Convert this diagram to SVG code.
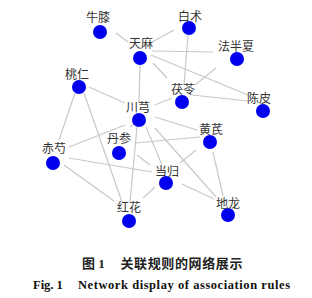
<svg xmlns="http://www.w3.org/2000/svg" width="312" height="298" viewBox="0 0 312 298">
<style>
.e{stroke:#c8c8c8;stroke-width:1.2;fill:none}
.n{fill:#0000ee}
.l{font-family:"Noto Sans CJK SC","Noto Sans",sans-serif;font-size:12px;fill:#333;text-anchor:middle}
.cz{font-family:"Liberation Serif","Noto Sans CJK SC",serif;font-size:13px;font-weight:bold;fill:#222}
.ce{font-family:"Liberation Serif",serif;font-size:12.5px;font-weight:bold;fill:#111}
</style>
<rect width="312" height="298" fill="#fff"/>
<g id="edges">
<line class="e" x1="116" y1="33" x2="128" y2="42"/>
<line class="e" x1="152" y1="42" x2="174" y2="30"/>
<line class="e" x1="152" y1="51" x2="213" y2="52"/>
<line class="e" x1="151" y1="55" x2="248" y2="95"/>
<line class="e" x1="153" y1="63" x2="167" y2="78"/>
<line class="e" x1="140" y1="65" x2="139" y2="103"/>
<line class="e" x1="188" y1="35" x2="184" y2="85"/>
<line class="e" x1="216" y1="68" x2="195" y2="85"/>
<line class="e" x1="192" y1="95" x2="248" y2="101"/>
<line class="e" x1="89" y1="87" x2="125" y2="103"/>
<line class="e" x1="155" y1="105" x2="172" y2="98"/>
<line class="e" x1="75" y1="93" x2="59" y2="140"/>
<line class="e" x1="84" y1="93" x2="122" y2="202"/>
<line class="e" x1="69" y1="147" x2="125" y2="125"/>
<line class="e" x1="69" y1="158" x2="152" y2="172"/>
<line class="e" x1="64" y1="165" x2="114" y2="201"/>
<line class="e" x1="137" y1="127" x2="130" y2="202"/>
<line class="e" x1="135" y1="143" x2="200" y2="137"/>
<line class="e" x1="130" y1="127" x2="135" y2="123"/>
<line class="e" x1="137" y1="155" x2="150" y2="165"/>
<line class="e" x1="155" y1="117" x2="197" y2="130"/>
<line class="e" x1="146" y1="127" x2="162" y2="165"/>
<line class="e" x1="155" y1="128" x2="216" y2="197"/>
<line class="e" x1="196" y1="150" x2="180" y2="163"/>
<line class="e" x1="213" y1="152" x2="223" y2="196"/>
<line class="e" x1="182" y1="184" x2="214" y2="199"/>
<line class="e" x1="155" y1="187" x2="143" y2="198"/>
</g>
<g id="niuxi"><circle class="n" cx="100" cy="32" r="7"/><text class="l" x="98" y="21.5">牛膝</text></g>
<g id="baizhu"><circle class="n" cx="189" cy="28" r="7"/><text class="l" x="190" y="20.5">白术</text></g>
<g id="tianma"><circle class="n" cx="140" cy="58" r="7"/><text class="l" x="141" y="47.5">天麻</text></g>
<g id="fabanxia"><circle class="n" cx="237" cy="59" r="7"/><text class="l" x="236" y="50.5">法半夏</text></g>
<g id="taoren"><circle class="n" cx="79" cy="87" r="7"/><text class="l" x="77" y="78.5">桃仁</text></g>
<g id="fuling"><circle class="n" cx="182" cy="102" r="7"/><text class="l" x="183" y="93.5">茯苓</text></g>
<g id="chenpi"><circle class="n" cx="263" cy="111" r="7"/><text class="l" x="259" y="102.5">陈皮</text></g>
<g id="chuanxiong"><circle class="n" cx="139" cy="120" r="7"/><text class="l" x="138" y="111.5">川芎</text></g>
<g id="huangqi"><circle class="n" cx="210" cy="142" r="7"/><text class="l" x="211" y="133.5">黄芪</text></g>
<g id="danshen"><circle class="n" cx="119" cy="153" r="7"/><text class="l" x="119" y="142.5">丹参</text></g>
<g id="chishao"><circle class="n" cx="53" cy="163" r="7"/><text class="l" x="54" y="152.5">赤芍</text></g>
<g id="danggui"><circle class="n" cx="166" cy="183" r="7"/><text class="l" x="167" y="175.5">当归</text></g>
<g id="dilong"><circle class="n" cx="228" cy="215" r="7"/><text class="l" x="228" y="207.5">地龙</text></g>
<g id="honghua"><circle class="n" cx="129" cy="221" r="7"/><text class="l" x="129" y="211.5">红花</text></g>
<text class="cz" x="82" y="267.5">图 1</text>
<text class="cz" x="120.5" y="267.5" textLength="122">关联规则的网络展示</text>
<text class="ce" x="33" y="289">Fig. 1</text>
<text class="ce" x="78" y="289" textLength="212">Network display of association rules</text>
</svg>
